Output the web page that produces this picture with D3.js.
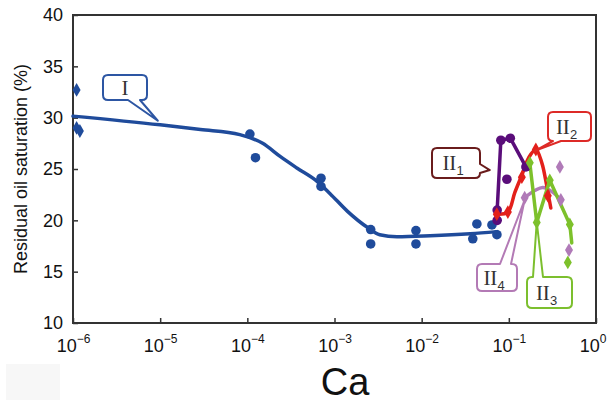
<!DOCTYPE html>
<html><head><meta charset="utf-8">
<script src="https://cdn.jsdelivr.net/npm/d3@7"></script>
<style>html,body{margin:0;padding:0;background:#fff;}svg{display:block;}</style>
</head><body>
<script>
// ---------- data ----------
const xTicks = [1e-6, 1e-5, 1e-4, 1e-3, 1e-2, 1e-1, 1];
const xTickExp = ["\u22126", "\u22125", "\u22124", "\u22123", "\u22122", "\u22121", "0"];
const yTicks = [10, 15, 20, 25, 30, 35, 40];

// Series I (blue): fitted curve and measured points
const curveI_x = [1e-6, 1e-5, 2.9e-5, 8.2e-5, 1.5e-4, 2.4e-4, 3.7e-4, 6.3e-4, 8.9e-4, 1.4e-3, 2.4e-3, 3.3e-3, 5.2e-3, 1.25e-2, 3.6e-2, 7.3e-2];
const curveI_y = [30.15, 29.3, 28.85, 28.35, 27.5, 26.2, 25.1, 23.8, 22.6, 20.9, 19.3, 18.6, 18.4, 18.5, 18.7, 18.9];
const ptsI_x = [1.07e-4, 1.24e-4, 7.0e-4, 7.0e-4, 2.6e-3, 2.6e-3, 8.6e-3, 8.6e-3, 0.043, 0.0386, 0.064, 0.073];
const ptsI_y = [28.4, 26.1, 24.1, 23.3, 19.1, 17.7, 19.0, 17.7, 19.65, 18.2, 19.55, 18.6];
const diaI_x = [1.1e-6, 1.1e-6, 1.2e-6];
const diaI_y = [32.7, 29.0, 28.7];

// Series II1 (purple)
const lineII1_x = [0.0735, 0.0735, 0.081, 0.104, 0.157];
const lineII1_y = [20.0, 21.0, 27.8, 28.0, 25.2];
const ptsII1_x = [0.0735, 0.0735, 0.081, 0.104, 0.157, 0.095];
const ptsII1_y = [20.0, 21.0, 27.8, 28.0, 25.2, 24.0];

// Series II2 (red)
const lineII2_x = [0.0728, 0.0975, 0.117, 0.141, 0.169, 0.204, 0.239, 0.265, 0.288, 0.303];
const lineII2_y = [20.6, 20.8, 22.7, 24.4, 26.1, 26.9, 25.6, 23.9, 22.2, 21.2];
const ptsII2_x = [0.0728, 0.0975, 0.141, 0.204, 0.28];
const ptsII2_y = [20.6, 20.8, 24.2, 26.9, 22.4];

// Series II3 (green)
const lineII3_x = [0.174, 0.209, 0.295, 0.501, 0.527];
const lineII3_y = [25.6, 19.8, 23.9, 19.6, 17.8];
const ptsII3_x = [0.174, 0.209, 0.295, 0.501, 0.475];
const ptsII3_y = [25.6, 19.8, 23.9, 19.6, 15.9];

// Series II4 (pink)
const lineII4_x = [0.152, 0.199, 0.245, 0.312, 0.395];
const lineII4_y = [22.2, 22.9, 23.2, 22.8, 22.0];
const ptsII4_x = [0.152, 0.395, 0.385, 0.49];
const ptsII4_y = [22.2, 22.0, 25.2, 17.1];

// Callout labels
const calloutLabels = ["I", "II", "II", "II", "II"];
const calloutSubs = ["", "1", "2", "3", "4"];
const calloutTipX = [9.4e-6, 0.0605, 0.199, 0.209, 0.152];
const calloutTipY = [29.7, 24.9, 26.76, 19.84, 22.0];

// ---------- drawing ----------
const W = 607, H = 404;
const svg = d3.select("body").append("svg").attr("width", W).attr("height", H);

const x = d3.scaleLog().domain([1e-6, 1]).range([73, 596]);
const y = d3.scaleLinear().domain([10, 40]).range([323, 15]);

const C = {blue: "#1f4b9b", purple: "#5a0d7a", red: "#e3201b", green: "#7dc12b", pink: "#b07ab8", maroon: "#6a1c1c"};

// faint artefact box bottom-left
svg.append("rect").attr("x", 6).attr("y", 364).attr("width", 54).attr("height", 36).attr("fill", "#f7f7f7");

// axes
const xAxis = d3.axisBottom(x).tickValues(xTicks).tickSizeInner(-5).tickSizeOuter(0).tickPadding(12).tickFormat(() => "");
const gx = svg.append("g").attr("transform", `translate(0,${y(10)})`).call(xAxis);
gx.select(".domain").remove();
gx.selectAll(".tick line").attr("stroke", "#333").attr("stroke-width", 1.5);
gx.selectAll(".tick text").each(function(d, i) {
  const t = d3.select(this).attr("font-family", "Liberation Sans, Arial, sans-serif").attr("font-size", 18).attr("fill", "#111").attr("dy", "0.95em");
  if (i === xTicks.length - 1) t.attr("text-anchor", "end").attr("x", 606 - x(1));
  t.append("tspan").text("10");
  t.append("tspan").attr("font-size", 12).attr("dy", "-0.75em").text(xTickExp[i]);
});

const yAxis = d3.axisLeft(y).tickValues(yTicks).tickSizeInner(-5).tickSizeOuter(0).tickPadding(10).tickFormat(d3.format("d"));
const gy = svg.append("g").attr("transform", `translate(${x(1e-6)},0)`).call(yAxis);
gy.select(".domain").remove();
gy.selectAll(".tick line").attr("stroke", "#333").attr("stroke-width", 1.5);
gy.selectAll(".tick text").attr("font-family", "Liberation Sans, Arial, sans-serif").attr("font-size", 18).attr("fill", "#111");

// frame
svg.append("rect").attr("x", x(1e-6)).attr("y", y(40)).attr("width", x(1) - x(1e-6)).attr("height", y(10) - y(40))
  .attr("fill", "none").attr("stroke", "#333").attr("stroke-width", 2);

// axis titles
svg.append("text").attr("transform", `translate(27,${(y(10) + y(40)) / 2}) rotate(-90)`).attr("text-anchor", "middle")
  .attr("font-family", "Liberation Sans, Arial, sans-serif").attr("font-size", 18).attr("fill", "#111").text("Residual oil saturation (%)");
svg.append("text").attr("x", 345).attr("y", 395).attr("text-anchor", "middle")
  .attr("font-family", "Liberation Sans, Arial, sans-serif").attr("font-size", 38).attr("fill", "#111").text("Ca");

// helpers
const zip = (xs, ys) => xs.map((v, i) => [v, ys[i]]);
const smooth = d3.line().x(d => x(d[0])).y(d => y(d[1])).curve(d3.curveMonotoneX);
const poly = d3.line().x(d => x(d[0])).y(d => y(d[1])).curve(d3.curveCatmullRom.alpha(0.5));
const straight = d3.line().x(d => x(d[0])).y(d => y(d[1]));
const diamond = d3.symbol().type(d3.symbolDiamond).size(55);

function drawLine(xs, ys, col, gen) {
  svg.append("path").attr("d", gen(zip(xs, ys))).attr("fill", "none").attr("stroke", col)
    .attr("stroke-width", 3.5).attr("stroke-linejoin", "round").attr("stroke-linecap", "round");
}
function drawCircles(xs, ys, col) {
  svg.append("g").selectAll("circle").data(zip(xs, ys)).join("circle")
    .attr("cx", d => x(d[0])).attr("cy", d => y(d[1])).attr("r", 4.8).attr("fill", col);
}
function drawDiamonds(xs, ys, col) {
  svg.append("g").selectAll("path").data(zip(xs, ys)).join("path")
    .attr("transform", d => `translate(${x(d[0])},${y(d[1])})`).attr("d", diamond).attr("fill", col);
}

// Series I
drawLine(curveI_x, curveI_y, C.blue, smooth);
drawCircles(ptsI_x, ptsI_y, C.blue);
drawDiamonds(diaI_x, diaI_y, C.blue);

// Series II
drawLine(lineII4_x, lineII4_y, C.pink, poly);
drawLine(lineII1_x, lineII1_y, C.purple, straight);
drawLine(lineII2_x, lineII2_y, C.red, poly);
drawLine(lineII3_x, lineII3_y, C.green, straight);
drawCircles(ptsII1_x, ptsII1_y, C.purple);
drawDiamonds(ptsII2_x, ptsII2_y, C.red);
drawDiamonds(ptsII4_x, ptsII4_y, C.pink);
drawDiamonds(ptsII3_x, ptsII3_y, C.green);

// callouts
const boxes = [
  {x0: 103, y0: 75, x1: 147, y1: 100, side: "bottom", a: 128, b: 140, col: "#2d56a3"},
  {x0: 432, y0: 148, x1: 480, y1: 178, side: "right", a: 164, b: 173, col: C.maroon},
  {x0: 548, y0: 112, x1: 591, y1: 141, side: "bottom", a: 553, b: 561, col: "#dd2a27"},
  {x0: 527, y0: 277, x1: 572, y1: 308, side: "top", a: 533, b: 543, col: "#7cbf2e"},
  {x0: 477, y0: 264, x1: 517, y1: 291, side: "top", a: 500, b: 511, col: "#b37ab5"}
];
function calloutPath(bx, tx, ty) {
  const {x0, y0, x1, y1, side, a, b} = bx, r = 5;
  let p = `M${x0 + r},${y0}`;
  if (side === "top") p += `L${a},${y0}L${tx},${ty}L${b},${y0}`;
  p += `L${x1 - r},${y0}Q${x1},${y0} ${x1},${y0 + r}`;
  if (side === "right") p += `L${x1},${a}L${tx},${ty}L${x1},${b}`;
  p += `L${x1},${y1 - r}Q${x1},${y1} ${x1 - r},${y1}`;
  if (side === "bottom") p += `L${b},${y1}L${tx},${ty}L${a},${y1}`;
  p += `L${x0 + r},${y1}Q${x0},${y1} ${x0},${y1 - r}L${x0},${y0 + r}Q${x0},${y0} ${x0 + r},${y0}Z`;
  return p;
}
boxes.forEach((bx, i) => {
  const tx = x(calloutTipX[i]), ty = y(calloutTipY[i]);
  svg.append("path").attr("d", calloutPath(bx, tx, ty)).attr("fill", "#fff").attr("stroke", bx.col)
    .attr("stroke-width", 2).attr("stroke-linejoin", "round");
  const cx = (bx.x0 + bx.x1) / 2 - (calloutSubs[i] ? 3 : 0), cy = (bx.y0 + bx.y1) / 2;
  const t = svg.append("text").attr("x", cx).attr("y", cy + 7).attr("text-anchor", "middle")
    .attr("font-family", "Liberation Serif, Times New Roman, serif").attr("font-size", 21).attr("fill", "#333");
  t.append("tspan").text(calloutLabels[i]);
  if (calloutSubs[i]) t.append("tspan").attr("font-size", 13).attr("dy", 5).attr("font-family", "Liberation Sans, Arial, sans-serif").text(calloutSubs[i]);
});
</script>
</body></html>
